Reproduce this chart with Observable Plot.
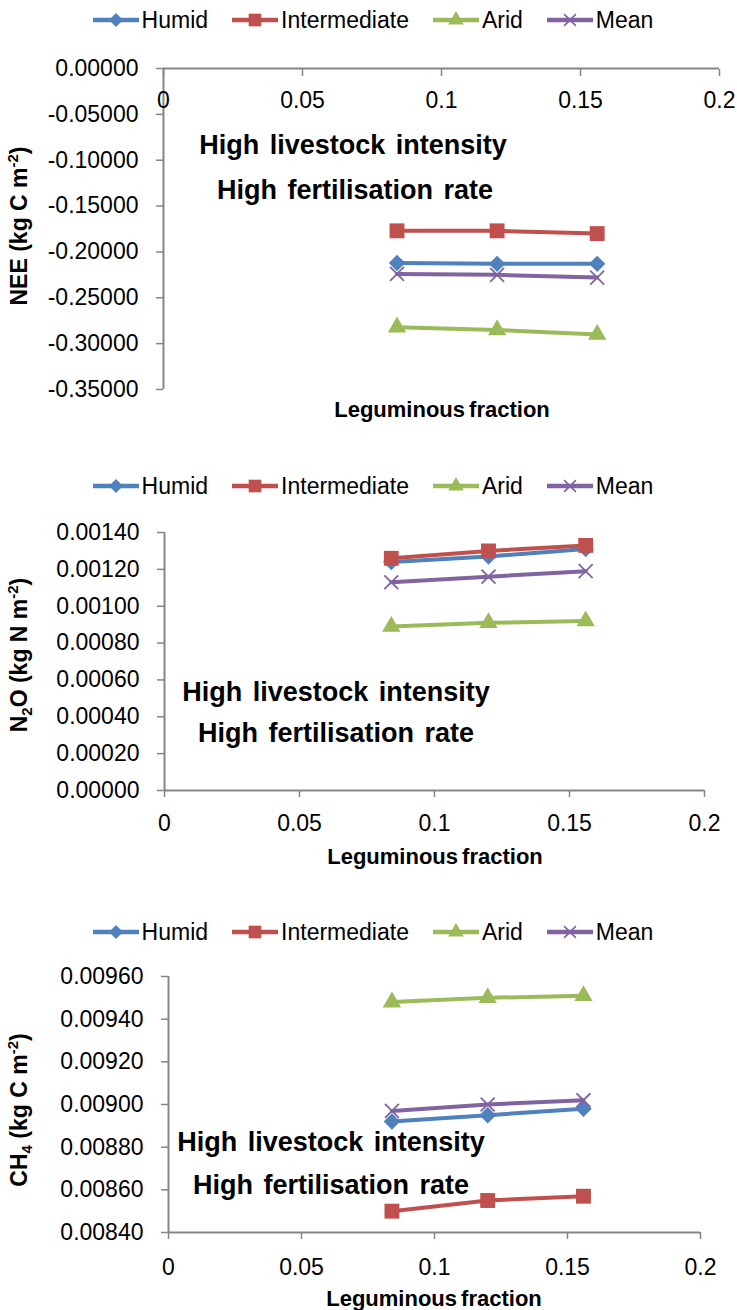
<!DOCTYPE html>
<html><head><meta charset="utf-8">
<script src="https://cdn.jsdelivr.net/npm/d3@7"></script>
<script src="https://cdn.jsdelivr.net/npm/@observablehq/plot@0.6"></script>
<style>
body{margin:0;background:#fff;}
#root{position:relative;width:737px;height:1310px;overflow:hidden;font-family:"Liberation Sans",Arial,sans-serif;color:#000;background:#fff;}
.plotwrap{position:absolute;left:0;}
.legend{position:absolute;left:0;width:746px;height:30px;display:flex;justify-content:center;align-items:center;font-size:23px;line-height:1;}
.item{display:flex;align-items:center;margin:0 12px;}
.item svg{margin-right:3px;}
.ytitle{position:absolute;font-weight:bold;font-size:23px;line-height:1;white-space:nowrap;transform:translate(-50%,-50%) rotate(-90deg);}
.xtitle{position:absolute;font-weight:bold;font-size:22px;line-height:1;white-space:nowrap;transform:translate(-50%,-50%);word-spacing:-2px;}
.note{position:absolute;font-weight:bold;font-size:27px;line-height:1;white-space:nowrap;transform:translate(-50%,-50%);word-spacing:3px;}
sub,sup{font-size:65%;line-height:0;}
</style></head><body><div id="root"></div>
<script>
// ---- data ----
const series = ["Humid", "Intermediate", "Arid", "Mean"];
const seriesColors = ["#4F81BD", "#C0504D", "#9BBB59", "#8064A2"];
const leguminous = [0.084, 0.12, 0.156];
const xTicks = [0, 0.05, 0.1, 0.15, 0.2];

const neeHumid = [-0.212, -0.213, -0.213];
const neeIntermediate = [-0.177, -0.177, -0.180];
const neeArid = [-0.282, -0.285, -0.290];
const neeMean = [-0.224, -0.225, -0.228];
const neeTicks = [0, -0.05, -0.10, -0.15, -0.20, -0.25, -0.30, -0.35];

const n2oHumid = [0.00124, 0.00127, 0.00131];
const n2oIntermediate = [0.00126, 0.00130, 0.00133];
const n2oArid = [0.00089, 0.00091, 0.00092];
const n2oMean = [0.00113, 0.00116, 0.00119];
const n2oTicks = [0, 0.0002, 0.0004, 0.0006, 0.0008, 0.0010, 0.0012, 0.0014];

const ch4Humid = [0.00892, 0.00895, 0.00898];
const ch4Intermediate = [0.00850, 0.00855, 0.00857];
const ch4Arid = [0.00948, 0.00950, 0.00951];
const ch4Mean = [0.00897, 0.00900, 0.00902];
const ch4Ticks = [0.0084, 0.0086, 0.0088, 0.0090, 0.0092, 0.0094, 0.0096];

const noteLines = ["High livestock intensity", "High fertilisation rate"];
const xTitle = "Leguminous fraction";

// ---- styling ----
const gray = "#868686";
const plotSymbols = ["diamond2", "square", "triangle", "times"];
const d3Symbols = [d3.symbolDiamond2, d3.symbolSquare, d3.symbolTriangle, d3.symbolTimes];
const radii = [7.4, 8.4, 6.8, 6.4];
const root = document.getElementById("root");

function addLegend(cy) {
  const div = document.createElement("div");
  div.className = "legend";
  div.style.top = (cy - 15) + "px";
  series.forEach((s, i) => {
    const item = document.createElement("div");
    item.className = "item";
    const svg = d3.create("svg").attr("width", 46).attr("height", 20);
    svg.append("line").attr("x1", 0).attr("x2", 46).attr("y1", 10).attr("y2", 10)
      .attr("stroke", seriesColors[i]).attr("stroke-width", 4.5);
    const size = Math.PI * Math.pow(radii[i] * 0.85, 2);
    const p = svg.append("path").attr("transform", "translate(23,10)")
      .attr("d", d3.symbol(d3Symbols[i], size)());
    if (i === 3) p.attr("fill", "none").attr("stroke", seriesColors[i]).attr("stroke-width", 1.6);
    else p.attr("fill", seriesColors[i]);
    item.appendChild(svg.node());
    const t = document.createElement("span");
    t.textContent = s;
    item.appendChild(t);
    div.appendChild(item);
  });
  root.appendChild(div);
}

function addHTML(cls, html, x, y) {
  const d = document.createElement("div");
  d.className = cls;
  d.style.left = x + "px";
  d.style.top = y + "px";
  d.innerHTML = html;
  root.appendChild(d);
}

function panel(cfg) {
  const rows = [];
  cfg.values.forEach((vals, i) => vals.forEach((v, j) => rows.push({series: series[i], x: leguminous[j], y: v})));
  const marks = [
    Plot.ruleX([0], {stroke: gray, strokeWidth: 2}),
    Plot.ruleY([cfg.xAxisTop ? cfg.domain[1] : cfg.domain[0]], {stroke: gray, strokeWidth: 2}),
    Plot.axisY({ticks: cfg.ticks, tickSize: 7, tickPadding: 18, tickFormat: d => d.toFixed(5),
      stroke: gray, strokeWidth: 1.5, label: null})
  ];
  if (cfg.xAxisTop) {
    marks.push(Plot.axisX({anchor: "top", ticks: xTicks, tickSize: -7, fill: "none", stroke: gray, strokeWidth: 1.5, label: null}));
    marks.push(Plot.text(xTicks, {x: d => d, text: d => String(d), frameAnchor: "top", lineAnchor: "middle", dy: 32, fontSize: 23}));
  } else {
    marks.push(Plot.axisX({anchor: "bottom", ticks: xTicks, tickSize: 7, tickPadding: cfg.xPad,
      tickFormat: d => String(d), stroke: gray, strokeWidth: 1.5, label: null}));
  }
  series.forEach((s, i) => {
    const d = rows.filter(r => r.series === s);
    marks.push(Plot.line(d, {x: "x", y: "y", stroke: seriesColors[i], strokeWidth: 4, strokeLinejoin: "round"}));
    if (i === 3) {
      marks.push(Plot.dot(d, {x: "x", y: "y", symbol: plotSymbols[i], r: radii[i], stroke: seriesColors[i], strokeWidth: 1.8, fill: "none"}));
    } else {
      marks.push(Plot.dot(d, {x: "x", y: "y", symbol: plotSymbols[i], r: radii[i], fill: seriesColors[i], stroke: "none"}));
    }
  });
  const chart = Plot.plot({
    width: 737,
    height: cfg.height,
    marginTop: cfg.mt, marginBottom: cfg.mb, marginLeft: cfg.ml, marginRight: cfg.mr,
    x: {domain: [0, 0.2]},
    y: {domain: cfg.domain},
    style: {fontSize: "23px", fontFamily: '"Liberation Sans", Arial, sans-serif', background: "transparent", overflow: "visible", color: "#000"},
    marks
  });
  const wrap = document.createElement("div");
  wrap.className = "plotwrap";
  wrap.style.top = cfg.top + "px";
  wrap.appendChild(chart);
  root.appendChild(wrap);
}

// Panel 1: NEE
addLegend(20);
panel({top: 40, height: 390, mt: 28, mb: 41, ml: 163, mr: 18, domain: [-0.35, 0], ticks: neeTicks,
  values: [neeHumid, neeIntermediate, neeArid, neeMean], xAxisTop: true});
addHTML("ytitle", "NEE (kg C m<sup>-2</sup>)", 19, 226);
addHTML("xtitle", xTitle, 442, 410);
addHTML("note", noteLines[0], 353, 145);
addHTML("note", noteLines[1], 355, 190);

// Panel 2: N2O
addLegend(486);
panel({top: 505, height: 365, mt: 27, mb: 80, ml: 164, mr: 33, domain: [0, 0.0014], ticks: n2oTicks,
  values: [n2oHumid, n2oIntermediate, n2oArid, n2oMean], xAxisTop: false, xPad: 17});
addHTML("ytitle", "N<sub>2</sub>O (kg N m<sup>-2</sup>)", 19, 655);
addHTML("xtitle", xTitle, 435, 857);
addHTML("note", noteLines[0], 336, 692);
addHTML("note", noteLines[1], 336, 733);

// Panel 3: CH4
addLegend(932);
panel({top: 950, height: 360, mt: 26, mb: 78, ml: 168, mr: 37, domain: [0.0084, 0.0096], ticks: ch4Ticks,
  values: [ch4Humid, ch4Intermediate, ch4Arid, ch4Mean], xAxisTop: false, xPad: 19});
addHTML("ytitle", "CH<sub>4</sub> (kg C m<sup>-2</sup>)", 19, 1110);
addHTML("xtitle", xTitle, 434, 1299);
addHTML("note", noteLines[0], 331, 1142);
addHTML("note", noteLines[1], 331, 1185);
</script></body></html>
